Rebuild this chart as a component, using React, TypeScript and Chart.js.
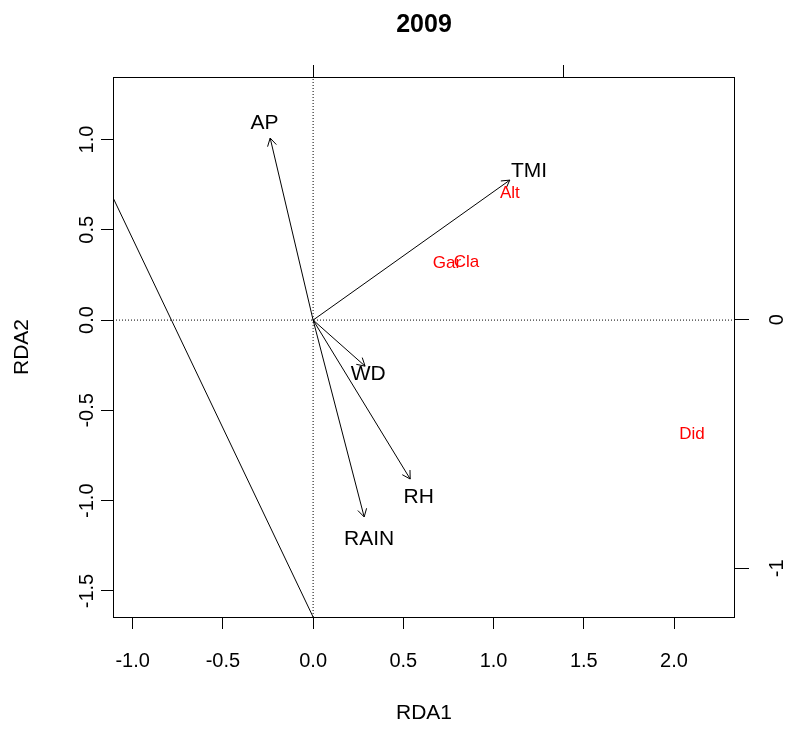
import React, { useEffect, useRef } from "react";
import { Chart, registerables } from "chart.js";

Chart.register(...registerables);

const chartTitle = "2009";
const xTitle = "RDA1";
const yTitle = "RDA2";

const xTicks = [-1, -0.5, 0, 0.5, 1, 1.5, 2];
const yTicks = [-1.5, -1, -0.5, 0, 0.5, 1];
const topTicks = [0, 1];
const rightTicks = [-1, 0];
const xRange = [-1.109, 2.338];
const yRange = [-1.644, 1.346];
const topRange = [-0.798, 1.683];
const rightRange = [-1.196, 0.977];

// environmental arrows (biplot scores)
const envNames = ["AP", "TMI", "WD", "RH", "RAIN"];
const envX = [-0.238, 1.09, 0.288, 0.538, 0.283];
const envY = [1.008, 0.775, -0.255, -0.88, -1.09];
const envLabelX = [-0.27, 1.197, 0.305, 0.585, 0.31];
const envLabelY = [1.091, 0.825, -0.299, -0.98, -1.213];

// species scores
const spNames = ["Alt", "Gar", "Cla", "Did"];
const spX = [1.09, 0.742, 0.85, 2.1];
const spY = [0.7, 0.316, 0.32, -0.631];

// straight reference line
const ablineX = [-1.109, 0.0];
const ablineY = [0.678, -1.644];

const FONT = '"Liberation Sans", Arial, Helvetica, sans-serif';

const rPlugin = {
  id: "rplot",
  afterDatasetsDraw(chart: any) {
    const { ctx, chartArea: a, scales } = chart;
    const xs = scales.x;
    const ys = scales.y;
    ctx.save();
    ctx.strokeStyle = "#000";
    ctx.lineWidth = 1;
    const x0 = xs.getPixelForValue(0);
    const y0 = ys.getPixelForValue(0);
    envNames.forEach((_n, i) => {
      const x1 = xs.getPixelForValue(envX[i]);
      const y1 = ys.getPixelForValue(envY[i]);
      const ang = Math.atan2(y1 - y0, x1 - x0);
      const L = 9;
      const w = Math.PI / 6;
      ctx.beginPath();
      ctx.moveTo(x1 - L * Math.cos(ang - w), y1 - L * Math.sin(ang - w));
      ctx.lineTo(x1, y1);
      ctx.lineTo(x1 - L * Math.cos(ang + w), y1 - L * Math.sin(ang + w));
      ctx.stroke();
    });
    ctx.textAlign = "center";
    ctx.textBaseline = "middle";
    ctx.fillStyle = "#000";
    ctx.font = `21px ${FONT}`;
    envNames.forEach((n, i) => {
      ctx.fillText(n, xs.getPixelForValue(envLabelX[i]), ys.getPixelForValue(envLabelY[i]));
    });
    ctx.fillStyle = "#ff0000";
    ctx.font = `17px ${FONT}`;
    spNames.forEach((n, i) => {
      ctx.fillText(n, xs.getPixelForValue(spX[i]), ys.getPixelForValue(spY[i]));
    });
    ctx.strokeStyle = "#000";
    ctx.strokeRect(Math.round(a.left) + 0.5, Math.round(a.top) + 0.5, Math.round(a.right - a.left) - 1, Math.round(a.bottom - a.top));
    ctx.restore();
  },
  afterDraw(chart: any) {
    const { ctx, chartArea: a, scales } = chart;
    ctx.save();
    ctx.fillStyle = "#000";
    ctx.textAlign = "center";
    ctx.textBaseline = "middle";
    ctx.font = `20px ${FONT}`;
    yTicks.forEach((v) => {
      const py = scales.y.getPixelForValue(v);
      ctx.save();
      ctx.translate(87, py);
      ctx.rotate(-Math.PI / 2);
      ctx.fillText(v.toFixed(1), 0, 0);
      ctx.restore();
    });
    rightTicks.forEach((v) => {
      const py = scales.y2.getPixelForValue(v);
      ctx.save();
      ctx.translate(777, py);
      ctx.rotate(-Math.PI / 2);
      ctx.fillText(String(v), 0, 0);
      ctx.restore();
    });
    ctx.font = `21px ${FONT}`;
    ctx.fillText(xTitle, (a.left + a.right) / 2, 713);
    ctx.save();
    ctx.translate(22, (a.top + a.bottom) / 2);
    ctx.rotate(-Math.PI / 2);
    ctx.fillText(yTitle, 0, 0);
    ctx.restore();
    ctx.font = `bold 25px ${FONT}`;
    ctx.fillText(chartTitle, (a.left + a.right) / 2, 25);
    ctx.restore();
  },
};

const tickGrid = {
  drawOnChartArea: false,
  drawTicks: true,
  tickLength: 12,
  color: "#000",
  tickColor: "#000",
  lineWidth: 1,
  tickWidth: 1,
};

export default function App() {
  const ref = useRef<HTMLCanvasElement>(null);
  useEffect(() => {
    if (!ref.current) return;
    const arrowSets = envNames.map((n, i) => ({
      label: n,
      data: [
        { x: 0, y: 0 },
        { x: envX[i], y: envY[i] },
      ],
      showLine: true,
      borderColor: "#000",
      borderWidth: 1,
      pointRadius: 0,
      xAxisID: "x",
      yAxisID: "y",
    }));
    const chart = new Chart(ref.current, {
      type: "scatter",
      data: {
        datasets: [
          {
            label: "h0",
            data: [
              { x: xRange[0], y: 0 },
              { x: xRange[1], y: 0 },
            ],
            showLine: true,
            borderColor: "#000",
            borderWidth: 1,
            borderDash: [1, 2],
            pointRadius: 0,
            xAxisID: "x",
            yAxisID: "y",
          },
          {
            label: "v0",
            data: [
              { x: 0, y: yRange[0] },
              { x: 0, y: yRange[1] },
            ],
            showLine: true,
            borderColor: "#000",
            borderWidth: 1,
            borderDash: [1, 2],
            pointRadius: 0,
            xAxisID: "x",
            yAxisID: "y",
          },
          {
            label: "abline",
            data: ablineX.map((x, i) => ({ x, y: ablineY[i] })),
            showLine: true,
            borderColor: "#000",
            borderWidth: 1,
            pointRadius: 0,
            xAxisID: "x",
            yAxisID: "y",
          },
          ...arrowSets,
        ],
      },
      options: {
        animation: false,
        responsive: true,
        maintainAspectRatio: false,
        layout: { padding: 0 },
        plugins: {
          legend: { display: false },
          tooltip: { enabled: false },
          title: { display: false },
        },
        scales: {
          x: {
            type: "linear",
            position: "bottom",
            min: xRange[0],
            max: xRange[1],
            afterBuildTicks: (s: any) => {
              s.ticks = xTicks.map((v) => ({ value: v }));
            },
            afterFit: (s: any) => {
              s.height = 112;
            },
            border: { display: false },
            grid: tickGrid,
            ticks: {
              color: "#000",
              font: { family: FONT, size: 20 },
              padding: 20,
              maxRotation: 0,
              minRotation: 0,
              autoSkip: false,
              callback: (v: any) => Number(v).toFixed(1),
            },
          },
          x2: {
            type: "linear",
            position: "top",
            min: topRange[0],
            max: topRange[1],
            afterBuildTicks: (s: any) => {
              s.ticks = topTicks.map((v) => ({ value: v }));
            },
            afterFit: (s: any) => {
              s.height = 77;
            },
            border: { display: false },
            grid: tickGrid,
            ticks: { display: false },
          },
          y: {
            type: "linear",
            position: "left",
            min: yRange[0],
            max: yRange[1],
            afterBuildTicks: (s: any) => {
              s.ticks = yTicks.map((v) => ({ value: v }));
            },
            afterFit: (s: any) => {
              s.width = 113;
            },
            border: { display: false },
            grid: tickGrid,
            ticks: { display: false },
          },
          y2: {
            type: "linear",
            position: "right",
            min: rightRange[0],
            max: rightRange[1],
            afterBuildTicks: (s: any) => {
              s.ticks = rightTicks.map((v) => ({ value: v }));
            },
            afterFit: (s: any) => {
              s.width = 52;
            },
            border: { display: false },
            grid: { ...tickGrid, tickLength: 14 },
            ticks: { display: false },
          },
        },
      },
      plugins: [rPlugin],
    } as any);
    return () => chart.destroy();
  }, []);
  return (
    <div style={{ position: "absolute", left: 0, top: 0, width: 787, height: 729, background: "#fff" }}>
      <canvas ref={ref} />
    </div>
  );
}
